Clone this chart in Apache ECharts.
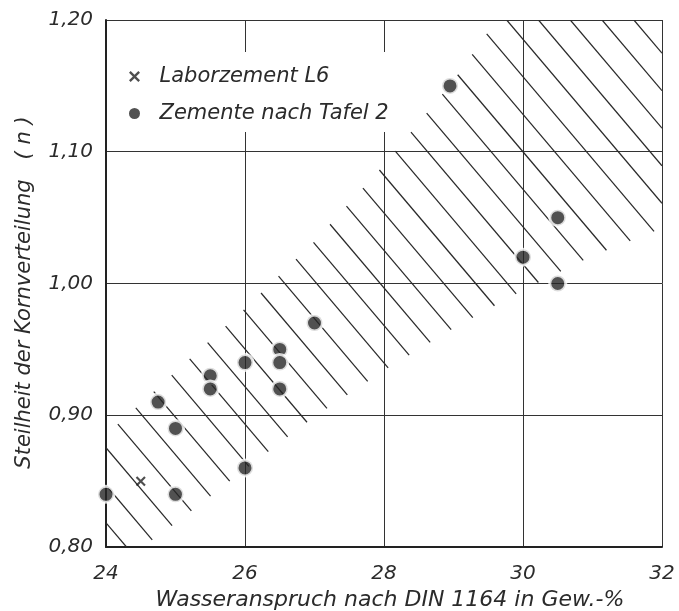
<!DOCTYPE html>
<html>
<head>
<meta charset="utf-8">
<script src="https://cdn.jsdelivr.net/npm/echarts@6/dist/echarts.min.js"></script>
<style>
  html, body { margin: 0; padding: 0; background: #fff; }
  #main { width: 679px; height: 611px; }
</style>
</head>
<body>
<div id="main"></div>
<script>
// Messwerte
var laborX = [24.5];
var laborY = [0.85];
var zementX = [24.0, 24.75, 25.0, 25.0, 25.5, 25.5, 26.0, 26.0, 26.5, 26.5, 26.5, 27.0, 28.95, 30.0, 30.5, 30.5];
var zementY = [0.84, 0.91, 0.89, 0.84, 0.93, 0.92, 0.94, 0.86, 0.95, 0.94, 0.92, 0.97, 1.15, 1.02, 1.05, 1.00];

// Grenzen des schraffierten Bandes
var obenX = [24.0, 25.0, 26.0, 27.0, 28.0, 29.0, 29.62];
var obenY = [0.885, 0.933, 0.981, 1.032, 1.090, 1.154, 1.20];
var untenX = [24.52, 25.0, 26.0, 27.0, 28.0, 29.0, 30.0, 31.0, 32.0];
var untenY = [0.80, 0.818, 0.859, 0.899, 0.934, 0.966, 0.995, 1.021, 1.042];

var xTicks = { min: 24, max: 32, interval: 2 };
var yTicks = { min: 0.8, max: 1.2, interval: 0.1 };

var FONT = 'DejaVu Sans';
var INK = '#2b2b2b';

function zip(xs, ys) {
    var out = [];
    for (var i = 0; i < xs.length; i++) out.push([xs[i], ys[i]]);
    return out;
}

// Schraffur: Linien im Band, Pixelrichtung (1, s)
function renderBand(params, api) {
    var poly = [api.coord([xTicks.min, yTicks.min])];
    for (var i = 0; i < obenX.length; i++) poly.push(api.coord([obenX[i], obenY[i]]));
    poly.push(api.coord([xTicks.max, yTicks.max]));
    for (var j = untenX.length - 1; j >= 0; j--) poly.push(api.coord([untenX[j], untenY[j]]));

    var s = 1.18;      // Steigung der Schraffur
    var gap = 31.8;    // horizontaler Abstand
    var origin = api.coord([xTicks.min, yTicks.max]);
    var br = api.coord([xTicks.max, yTicks.min]);
    var c0 = origin[0] - origin[1] / s + 400.7;
    var cMin = origin[0] - br[1] / s - gap;
    var cMax = br[0] - origin[1] / s + gap;
    while (c0 > cMin) c0 -= gap;

    var children = [];
    for (var c = c0; c < cMax; c += gap) {
        var hits = [];
        for (var k = 0; k < poly.length; k++) {
            var p = poly[k], q = poly[(k + 1) % poly.length];
            var fp = p[0] - p[1] / s - c;
            var fq = q[0] - q[1] / s - c;
            if ((fp < 0 && fq >= 0) || (fp >= 0 && fq < 0)) {
                var t = fp / (fp - fq);
                hits.push(p[1] + t * (q[1] - p[1]));
            }
        }
        hits.sort(function (a, b) { return a - b; });
        for (var h = 0; h + 1 < hits.length; h += 2) {
            children.push({
                type: 'line',
                shape: { x1: c + hits[h] / s, y1: hits[h], x2: c + hits[h + 1] / s, y2: hits[h + 1] },
                style: { stroke: '#2a2a2a', lineWidth: 1.25 }
            });
        }
    }
    return { type: 'group', children: children };
}

var chart = echarts.init(document.getElementById('main'));

var option = {
    backgroundColor: '#fff',
    animation: false,
    grid: { left: 106, right: 17, top: 20, bottom: 64, containLabel: false, outerBoundsMode: 'none' },
    legend: {
        orient: 'vertical',
        left: 129,
        top: 52,
        itemWidth: 40,
        itemHeight: 11,
        itemGap: 16,
        backgroundColor: '#fff',
        padding: [14, 10, 8, 0],
        itemStyle: { borderWidth: 0 },
        textStyle: { fontFamily: FONT, fontStyle: 'italic', fontSize: 21, color: INK },
        data: ['Laborzement L6', 'Zemente nach Tafel 2']
    },
    xAxis: {
        type: 'value',
        min: xTicks.min,
        max: xTicks.max,
        interval: xTicks.interval,
        name: 'Wasseranspruch nach DIN 1164 in Gew.-%',
        nameLocation: 'middle',
        nameGap: 39,
        nameTextStyle: { fontFamily: FONT, fontStyle: 'italic', fontSize: 22, color: INK, padding: [0, 0, 0, 12] },
        axisLine: { show: true, lineStyle: { color: '#222', width: 2 } },
        axisTick: { show: false },
        axisLabel: { margin: 17, fontFamily: FONT, fontStyle: 'italic', fontSize: 20, color: INK },
        splitLine: { show: true, lineStyle: { color: '#333', width: 1 } }
    },
    yAxis: {
        type: 'value',
        min: yTicks.min,
        max: yTicks.max,
        interval: yTicks.interval,
        name: 'Steilheit der Kornverteilung   ( n )',
        nameLocation: 'middle',
        nameRotate: 90,
        nameGap: 71,
        nameTextStyle: { fontFamily: FONT, fontStyle: 'italic', fontSize: 21, color: INK, padding: [0, 18, 0, 0] },
        axisLine: { show: true, lineStyle: { color: '#222', width: 2 } },
        axisTick: { show: false },
        axisLabel: {
            margin: 13, fontFamily: FONT, fontStyle: 'italic', fontSize: 20, color: INK,
            formatter: function (v) { return v.toFixed(2).replace('.', ','); }
        },
        splitLine: { show: true, lineStyle: { color: '#333', width: 1 } }
    },
    series: [
        {
            type: 'custom',
            name: 'band',
            silent: true,
            clip: true,
            renderItem: renderBand,
            data: [[xTicks.min, yTicks.min]],
            z: 1
        },
        {
            name: 'Laborzement L6',
            type: 'scatter',
            clip: false,
            symbol: 'path://M0,1.5L1.5,0L5,3.5L8.5,0L10,1.5L6.5,5L10,8.5L8.5,10L5,6.5L1.5,10L0,8.5L3.5,5Z',
            symbolSize: 10,
            itemStyle: { color: '#222' },
            data: zip(laborX, laborY),
            z: 3
        },
        {
            name: 'Zemente nach Tafel 2',
            type: 'scatter',
            clip: false,
            symbol: 'circle',
            symbolSize: 16,
            itemStyle: { color: '#262626', borderColor: '#fff', borderWidth: 3 },
            data: zip(zementX, zementY),
            z: 4
        }
    ]
};

chart.setOption(option);
</script>
</body>
</html>
